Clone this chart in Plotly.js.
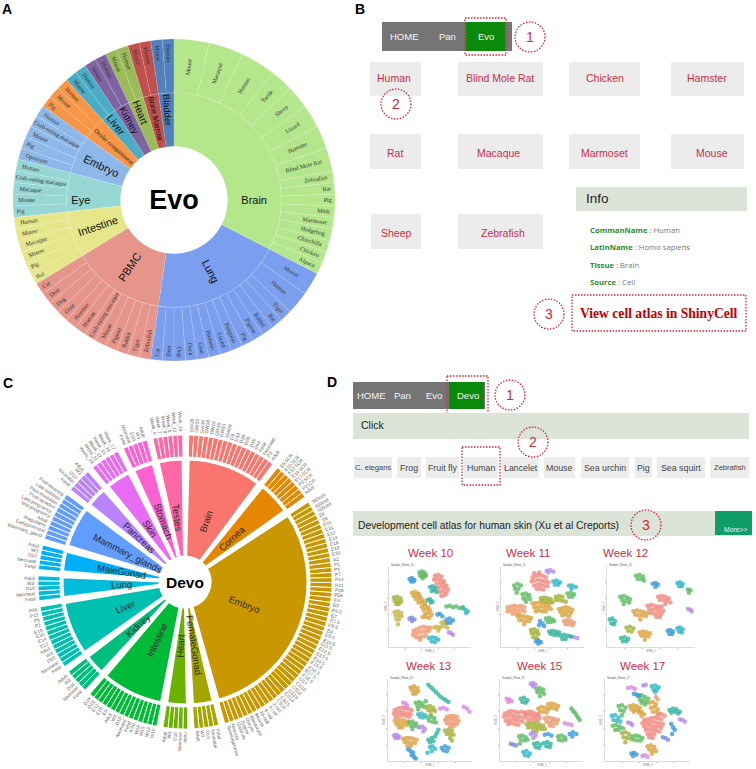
<!DOCTYPE html>
<html><head><meta charset="utf-8">
<script src="https://cdn.plot.ly/plotly-3.0.1.min.js"></script>
<style>html,body{margin:0;padding:0;background:#fff}#c{width:756px;height:769px}</style>
</head><body><div id="c"></div>
<script>
// ---------- Panel A data: samples per species in each tissue ----------
const evoTissues = ["Brain","Lung","PBMC","Intestine","Eye","Embryo","Ocular compartment","Liver","Kidney","Heart","Bone Marrow","Bladder"];
const evoColors = ["#B4E68C","#7B9FEE","#E6958A","#E6E68A","#96D6D3","#8FB8EA","#F79646","#4BACC6","#8064A2","#9BBB59","#C0504D","#4F81BD"];
const evoSpecies = [
 ["Mouse","Macaque","Human","Turtle","Sheep","Lizard","Hamster","Blind Mole Rat","Zebrafish","Rat","Pig","Mink","Marmoset","Hedgehog","Chinchilla","Chicken","Alpaca"],
 ["Mouse","Human","Tiger","Rat","Rabbit","Pigeon","Pig","Pangolin","Lizard","Hamster","Goat","Duck","Dog","Deer","Cat"],
 ["Zebrafish","Tiger","Rabbit","Pigeon","Mouse","Crab-eating macaque","Human","Hamster","Goat","Dog","Deer","Cat"],
 ["Rat","Pig","Mouse","Macaque","Mouse ","Human"],
 ["Pig","Mouse","Macaque","Crab-eating macaque","Human"],
 ["Opossum","Pig","Mouse","Crab-eating macaque","Human"],
 ["Pig","Mouse","Human"],["Mouse","Human"],["Mouse","Human"],["Mouse","Human"],["Mouse","Human"],["Mouse","Human"]
];
const evoBrainCounts = [3,3,3,2,2,2,2,2,1,1,1,1,1,1,1,1,1];
const evoLungCounts = [2,2,1,1,1,1,1,1,1,1,1,1,1,1,1];

// ---------- Panel C data ----------
const devoTissues = ["Brain","Cornea","Embryo","FemaleGonad","Heart","Intestine","Kidney","Liver","Lung","MaleGonad","Mammary_glands","Pancreas","Skin","Stomach","Testes"];
const devoColors = ["#F8766D","#E58700","#C99800","#A3A500","#6BB100","#00BA38","#00BF7D","#00C0AF","#00BCD8","#00B0F6","#619CFF","#B983FF","#E76BF3","#FD61D1","#FF67A4"];
const devoStages = [
 ["GW26","GW23","GW19","GW18","GW16","GW15","GW13","GW09","D9","D14","D20","D28","D35","D44","Fetal","Neonatal","P3","Adult"],
 ["E9.5CR","E10.5CR","E12.5CR","E14.5CR","E17.5CR","P0.5CR","P21CR","Adult"],
 ["300cell","400cell","500cell","E6","E8","E10","E11","E12","E14","E16","E18","E20","A2","P1","P4","P7","P14","P21","P28","P56","E4","E5","E6.5","E7","E7.5","E8.5","E9","E9.5","E10.5","E11.5","E12.5","E13.5","E14.5","E15.5","E16.5","E17.5","E18.5","CS7","CS10","CS12","CS13","CS14","CS15","CS16","2-cell","4-cell","8-cell","16-cell","Morula","Blastocyst","Oocyte","Zygote","Gastrula","Neurula","Somitogenesis"],
 ["Fetal","Neonatal","D10","W3","Adult"],
 ["Fetal","Neonatal","D10","W3","Adult"],
 ["W10","W13","W15","W18","W20","Fetal","Neonatal","D10","W3","Adult","E8","E10","D12","D18","D24"],
 ["Fetal","Neonatal","D10","W3","Adult"],
 ["Fetal","Neonatal","D10","W3","Adult","E12","E14","E16","E18","P2","P6","P15","P56"],
 ["Fetal","Neonatal","D10","W3","Adult"],
 ["Fetal","Neonatal","D10","W3","Adult"],
 ["Mammary_gland","Earlypostnatal","Prepuberty","Adult","Mid-pregnancy","Late-pregnancy","Post-lactation","Post-involution","Late-lactation","Post-weaning"],
 ["Fetal","Neonatal","D10","W3","Adult"],
 ["Week_10","Week_11","Week_12","Week_13","Week_15","Week_17"],
 ["Fetal","Neonatal","D10","W3","Adult"],
 ["Week_6","Week_7","Week_8","Week_9","Week_12","Week_16"]
];

// ---------- Panels B / D text ----------
const evoNav = ["HOME","Pan","Evo"];
const devoNav = ["HOME","Pan","Evo","Devo"];
const evoButtons = ["Human","Blind Mole Rat","Chicken","Hamster","Rat","Macaque","Marmoset","Mouse","Sheep","Zebrafish"];
const devoButtons = ["C. elegans","Frog","Fruit fly","Human","Lancelet","Mouse","Sea urchin","Pig","Sea squirt","Zebrafish"];
const infoKeys = ["CommanName","LatinName","Tissue","Source"];
const infoVals = ["Human","Homo sapiens","Brain","Cell"];
const weekTitles = ["Week 10","Week 11","Week 12","Week 13","Week 15","Week 17"];

// ---------- Panel D embedded t-SNE clusters, read by eye (0-100 plot units): [palette key, x list, y list] ----------
const P = {sa:"#F08A80",go:"#D9A441",gr:"#5DBB63",te:"#33B5A0",ol:"#A3B03A",bl:"#3B9BD9",cy:"#35B8C8",pu:"#B68CE8",or:"#EE9A6E",ma:"#D98AE0",pb:"#7B8CE0",kh:"#C9B84B"};
const wk10 = [
 ["gr",[37,40,43,45,38,41,44,41],[92,93,92,89,88,88,87,85]],
 ["bl",[25,28,31,27,30],[84,85,83,81,81]],
 ["sa",[56,60,64,55,59,63,67,58,62,66,70,60,64,68,72,62,66,70,64,68],[88,89,87,83,84,83,81,78,79,78,76,73,74,73,71,68,69,67,63,64]],
 ["te",[50,53,56,52,55,58],[74,75,73,69,70,68]],
 ["go",[28,32,36,30,34,38,33,37,41,36,40,44,40,44,48,42,46,50,44,48,52,41,45,49],[67,68,66,63,64,62,59,60,58,55,55,54,50,51,49,46,47,45,41,42,40,37,37,36]],
 ["te",[47,50,53,51],[58,59,56,55]],
 ["ol",[6,10,14,7,11,15,9,12],[61,62,60,57,57,56,53,53]],
 ["kh",[7,11,15,8,12,15,9,12,11],[43,44,42,39,39,38,34,34,28]],
 ["pb",[25,28,31,28],[35,36,34,32]],
 ["gr",[70,74,78,82,86,90],[50,51,49,50,48,49]],
 ["cy",[90,93,96,94],[48,46,44,42]],
 ["or",[30,34,38,42,46,50,29,33,37,41,45,49,33,37,41,45,38],[20,22,24,25,24,24,15,17,18,19,19,20,12,12,13,14,9]],
 ["kh",[55,58,61,60,64,67,70,63,67,71],[24,25,23,20,30,31,29,25,26,24]],
 ["bl",[70,74,78,71,75,59,62,65],[34,35,33,30,30,40,41,38]],
 ["cy",[49,53,57,60,52,56],[11,12,11,9,7,6]],
 ["pu",[73,76,78],[18,17,15]]
];
const wk11 = [
 ["sa",[38,42,46,50,54,37,41,45,49,53,57,40,44,48,52,56,43,47,51,40,46],[86,88,89,88,86,81,82,83,82,81,80,76,77,77,76,75,72,72,71,91,92]],
 ["pu",[55,59,63,57],[94,95,93,92]],
 ["gr",[16,20,24,17,21,19],[76,78,76,72,72,67]],
 ["gr",[26,30,34,27,31,35,30],[65,66,64,60,61,59,56]],
 ["or",[8,12,16,20,24,28,8,12,16,20,24,28,14,18,22],[49,50,51,50,51,49,44,45,46,45,46,44,41,41,41]],
 ["go",[20,24,28,32,36,22,26,30,34,28],[38,38,38,37,36,33,33,32,32,28]],
 ["go",[38,42,46,50,54,58,40,44,48,52,56,60,42,46,50,54],[54,54,55,54,53,52,49,49,50,49,48,47,44,45,44,44]],
 ["ol",[48,52,56,60,50,54,58,62,66,70,74,66,70,74,78],[60,61,60,59,57,56,56,55,62,63,62,58,58,57,56]],
 ["cy",[63,67,71,65,69],[81,82,80,77,77]],
 ["gr",[54,58,62,56,60,64],[35,36,34,31,31,32]],
 ["ol",[36,40,44,37,41,45,39,43],[21,22,20,17,17,16,12,11]],
 ["te",[58,62,66,70,60,64,68],[19,20,19,18,16,15,15]],
 ["bl",[42,45,48,45],[7,8,6,4]],
 ["bl",[47,50,46,52],[32,29,27,26]],
 ["go",[70,74,78,82,86,72,76,80,84,74,78,82],[47,48,49,48,46,43,44,44,42,39,40,38]],
 ["or",[76,80,84,88,78,82,86],[32,33,32,30,28,28,27]],
 ["gr",[80,84,88,82,86],[66,67,65,62,62]],
 ["cy",[82,86,90,85],[76,76,74,72]],
 ["pu",[84,88,92],[13,12,11]],
 ["te",[72,76,80,84,74,78],[14,15,14,13,10,10]]
];
const wk12 = [
 ["gr",[15,19,23,26,17,21,25,19],[62,63,61,59,58,57,55,53]],
 ["te",[3,6,9,5,8],[34,35,32,29,28]],
 ["gr",[33,37,41,35,39,42],[88,89,87,84,84,82]],
 ["sa",[46,50,54,58,62,48,52,56,60,64,50,54,58,62,56,60,58,62,66,70,60,64,68,72,66],[51,52,51,50,50,47,46,47,46,45,42,41,42,41,37,37,62,63,62,60,58,58,57,55,53]],
 ["go",[30,34,38,42,46,32,36,40,44,38],[44,45,44,43,42,40,39,39,38,34]],
 ["go",[37,41,45,49,39,43,47,43],[18,19,18,17,14,14,13,9]],
 ["ol",[22,26,30,24,28],[24,25,23,20,19]],
 ["cy",[80,83,86,82,85],[79,80,78,75,75]],
 ["bl",[69,72,75,71,74],[20,21,19,16,16]],
 ["pu",[92,95,96],[47,46,44]],
 ["te",[16,20,24,18,22],[11,12,10,7,7]],
 ["cy",[80,83,86,82,85],[23,24,22,19,18]],
 ["gr",[92,95,93],[71,70,67]],
 ["bl",[52,55,58,55],[78,79,77,74]]
];
const wk13 = [
 ["go",[27,31,35,28,32,36,30,33],[90,91,89,87,86,85,82,82]],
 ["te",[48,51,54,57,60,63,66,69,72],[93,90,87,84,81,78,76,74,72]],
 ["sa",[8,12,16,20,24,28,7,11,15,19,23,27,9,13,17,21,25],[62,64,65,64,63,62,58,59,60,59,58,57,54,55,56,55,54]],
 ["go",[8,12,16,20,24,10,14,18,22,13,17],[49,50,50,49,48,45,45,45,44,41,41]],
 ["gr",[33,37,41,45,35,39,43,36],[71,72,70,73,67,67,66,63]],
 ["gr",[25,29,33,27,31,35,29],[47,48,46,43,43,42,39]],
 ["ol",[46,50,54,48,52,56,51],[66,67,65,62,62,61,57]],
 ["gr",[47,51,55,49,53,57],[53,54,52,49,48,47]],
 ["cy",[36,40,44,38,42],[57,58,56,54,53]],
 ["ma",[18,21,23,20],[71,70,67,65]],
 ["ma",[62,66,70],[64,65,63]],
 ["or",[70,74,78,82,68,72,76,80,84,70,74,78,82,74,78],[54,55,55,54,50,51,51,50,49,46,46,46,45,42,42]],
 ["ol",[68,72,76,70,74,78,74,76],[37,38,37,33,33,32,28,25]],
 ["go",[18,22,26,30,34,20,24,28,32,23,27],[27,28,28,27,26,23,23,22,22,18,18]],
 ["pu",[7,10,13,9,12],[31,32,30,28,28]],
 ["bl",[24,27,30,28,31,33],[14,12,10,7,5,3]],
 ["te",[48,52,56,50,54,58,60],[26,28,30,23,24,34,38]],
 ["cy",[50,53,56,52,47],[17,18,15,12,10]],
 ["bl",[64,68,72,66,70],[16,18,16,13,12]],
 ["pu",[38,41,44,42],[41,42,39,36]],
 ["ma",[90,94,97],[66,64,60]]
];
const wk15 = [
 ["pu",[37,40,43,40],[94,95,93,91]],
 ["gr",[44,48,52,45,49,53,48],[88,89,87,84,84,82,79]],
 ["ma",[8,11,14,10],[76,75,73,72]],
 ["te",[25,29,33,27,31],[76,77,74,72,71]],
 ["sa",[6,10,14,18,22,26,30,5,9,13,17,21,25,29,7,11,15,19,23,27,10,14,18,22],[58,60,61,60,59,60,58,54,55,56,55,54,54,53,49,50,51,50,49,48,45,46,45,44]],
 ["sa",[30,34,38,42,46,32,36,40,44,48,34,38,42,46],[59,60,60,58,57,55,56,55,54,53,50,51,50,49]],
 ["go",[46,50,54,58,48,52,56],[64,66,65,63,60,60,59]],
 ["go",[58,62,66,70,60,64,68],[69,70,69,67,65,65,63]],
 ["ol",[32,36,40,44,48,52,34,38,42,46,50,54,40,44],[45,46,46,45,44,43,41,41,41,40,39,39,36,36]],
 ["or",[54,58,62,66,70,56,60,64,68,60,64],[52,53,52,51,50,48,47,48,46,43,43]],
 ["gr",[23,27,31,25,29,33,24],[30,31,29,26,25,26,21]],
 ["gr",[86,88,90,92,94,96],[64,61,59,56,53,50]],
 ["ma",[78,82,86],[46,45,44]],
 ["bl",[84,88,92,87],[33,35,33,30]],
 ["gr",[70,74,78,71,75,79],[30,31,29,26,25,26]],
 ["pu",[37,40,43,40],[33,34,31,28]],
 ["bl",[54,58,62],[32,33,31]],
 ["te",[41,45,49,43,47],[21,22,20,17,16]],
 ["te",[53,57,61,56,60],[22,23,21,18,17]],
 ["pb",[13,16,19],[21,20,19]],
 ["cy",[28,32,36,30,34],[11,12,9,7,6]]
];
const wk17 = [
 ["cy",[55,59,63,57,61,59],[91,92,90,87,87,84]],
 ["ma",[27,31,35],[89,90,88]],
 ["pu",[45,48],[92,93]],
 ["gr",[39,43,47,51,41,45,49,43,47],[79,80,78,76,75,74,72,71,69]],
 ["bl",[34,37,40],[82,81,80]],
 ["go",[29,33,37,41,31,35,39,34],[67,68,67,65,63,63,62,60]],
 ["go",[52,56,60,54,58,62,56,60,64],[71,72,69,65,66,63,60,60,58]],
 ["or",[60,62],[78,75]],
 ["sa",[46,50,54,58,62,66,44,48,52,56,60,64,68,46,50,54,58,62,66,48,52,56,60,64,50,54,58,52,56,62,66,70],[50,51,52,53,52,51,46,47,47,48,47,46,45,42,43,43,42,42,41,38,38,38,37,36,33,33,33,29,28,56,57,55]],
 ["gr",[16,20,24,18,22,20],[67,68,65,62,61,56]],
 ["cy",[8,12,16,10,14,18],[55,56,53,50,49,48]],
 ["gr",[9,13,17,21,12,16],[43,44,42,40,38,38]],
 ["pu",[27,30,32],[47,46,44]],
 ["go",[40,43,46,43],[59,60,57,55]],
 ["te",[76,80,84,88,78,82,86],[62,64,63,60,59,60,58]],
 ["bl",[78,80,82,79],[45,41,38,33]],
 ["pu",[88,91,94],[51,50,48]],
 ["ol",[20,24,28,22,26,30,24],[34,35,33,29,28,27,23]],
 ["gr",[32,36,40,44,34,38,42],[30,31,30,28,26,25,25]],
 ["pb",[68,71,74],[29,28,26]],
 ["go",[50,54,58,52,56,60,55],[18,19,17,14,13,12,9]],
 ["bl",[31,34,37,33],[9,10,8,6]],
 ["ma",[44,47,50],[6,7,5]]
];
const weekData=[wk10,wk11,wk12,wk13,wk15,wk17];

// ---------- helpers ----------
const W=756,H=769, SANS="Liberation Sans, Arial, sans-serif", SERIF="Liberation Serif, Times New Roman, serif";
const fx=x=>x/W, fy=y=>1-y/H;
const shapes=[], annotations=[], traces=[];
const RED="#CF2A3A";
function rect(x0,y0,x1,y1,fill,line){shapes.push({type:"rect",xref:"paper",yref:"paper",x0:fx(x0),x1:fx(x1),y0:fy(y0),y1:fy(y1),fillcolor:fill||"rgba(0,0,0,0)",line:line||{width:0},layer:"below"});}
const dotted={color:RED,width:1.3,dash:"1.5px,1.5px"};
function circle(cx,cy,r){shapes.push({type:"circle",xref:"paper",yref:"paper",x0:fx(cx-r),x1:fx(cx+r),y0:fy(cy-r),y1:fy(cy+r),line:dotted,layer:"above"});}
function label(t,x,y,size,color,opt){annotations.push(Object.assign({text:t,x:fx(x),y:fy(y),xref:"paper",yref:"paper",showarrow:false,xanchor:"center",yanchor:"middle",borderpad:0,font:{size:size,color:color,family:SANS}},opt||{}));}
function marker(n,cx,cy){circle(cx,cy,15);label(String(n),cx,cy,14,RED);}

// ---------- Panel A: sunburst (sectors run counter-clockwise, so nodes are added in reverse) ----------
{
 const ids=["Evo"],labels=["Evo"],parents=[""],values=[0],colors=["#ffffff"],lineC=["#ffffff"];
 const sizes=[27],fams=[SANS],weights=[700],fcol=["#000"];
 const faint="rgba(255,255,255,0.16)";
 let tot=0;
 for(let i=evoTissues.length-1;i>=0;i--){
  const t=evoTissues[i],sp=evoSpecies[i];
  const cnt=i===0?evoBrainCounts:i===1?evoLungCounts:sp.map(()=>1);
  const sum=cnt.reduce((a,b)=>a+b,0); tot+=sum;
  ids.push(t);labels.push(t);parents.push("Evo");values.push(sum);colors.push(evoColors[i]);lineC.push(faint);
  sizes.push(t==="Ocular compartment"?6.5:11);fams.push(t==="Ocular compartment"?SERIF:SANS);weights.push(400);fcol.push("#111");
  for(let j=sp.length-1;j>=0;j--){const s=sp[j];ids.push(t+"/"+s);labels.push(s.trim());parents.push(t);values.push(cnt[j]);colors.push(evoColors[i]);lineC.push(faint);
   sizes.push(6);fams.push(SERIF);weights.push(400);fcol.push("#333");}
 }
 values[0]=tot;
 traces.push({type:"sunburst",ids,labels,parents,values,branchvalues:"total",sort:false,rotation:90,
  insidetextorientation:"radial",textinfo:"label",leaf:{opacity:1},
  marker:{colors,line:{color:lineC,width:0.8}},
  textfont:{size:sizes,family:fams,weight:weights,color:fcol},
  domain:{x:[fx(13),fx(335)],y:[fy(361),fy(39)]},hoverinfo:"label"});
}

// ---------- Panel C: barpolar ----------
{
 const cx=185,cy=582,Rout=147,unit=1.95,gap=2.42;
 const th1=[],wd1=[],col1=[],th2=[],wd2=[],col2=[];
 let a=1.5;
 const ms=document.createElement("canvas").getContext("2d");
 const rot=t=>t<180?t-90:t-270;
 const pos=(t,r)=>[cx+r*Math.sin(t*Math.PI/180),cy-r*Math.cos(t*Math.PI/180)];
 devoTissues.forEach((t,i)=>{
  const st=devoStages[i],span=st.length*unit;
  const mid=a+span/2;
  th1.push(mid);wd1.push(span);col1.push(devoColors[i]);
  st.forEach((s,j)=>{
   const tt=a+unit*(j+.5);
   th2.push(tt);wd2.push(unit);col2.push(devoColors[i]);
   ms.font="4.8px Liberation Sans";
   const len=ms.measureText(s).width;
   const p=pos(tt,150+len/2);
   label(s,p[0],p[1],4.8,"#666",{textangle:rot(tt)});
  });
  const p=pos(mid,64);
  label(t,p[0],p[1],9.5,"#2a2a2a",{textangle:rot(mid)});
  a+=span+gap;
 });
 const base1=th1.map(()=>25), len1=th1.map(()=>98);
 const base2=th2.map(()=>125), len2=th2.map(()=>22);
 traces.push({type:"barpolar",subplot:"polar",theta:th1,width:wd1,r:len1,base:base1,marker:{color:col1,line:{color:"#fff",width:3}},hoverinfo:"skip"});
 traces.push({type:"barpolar",subplot:"polar",theta:th2,width:wd2,r:len2,base:base2,marker:{color:col2,line:{color:"#fff",width:0.9}},hoverinfo:"skip"});
 label("Devo",cx,cy,15.5,"#000",{font:{size:15.5,color:"#000",family:SANS,weight:700}});
 var polar={domain:{x:[fx(cx-Rout),fx(cx+Rout)],y:[fy(cy+Rout),fy(cy-Rout)]},bgcolor:"rgba(0,0,0,0)",barmode:"overlay",
  radialaxis:{visible:false,range:[0,Rout]},angularaxis:{visible:false,direction:"clockwise",rotation:90,thetaunit:"degrees"}};
}

// ---------- Panel letters ----------
[["A",7,9],["B",360,9],["C",8,383],["D",332,382]].forEach(l=>label("<b>"+l[0]+"</b>",l[1],l[2],14,"#000"));

// ---------- Panel B ----------
const GREY="#757575",NAVG="#0A8A0A",BTN="#ECECEC",SAGE="#DCE4D8",BTXT="#C9304A";
rect(382,22,512,51,GREY); rect(466,22,505,51,NAVG); rect(465,18,506,55,null,dotted);
[404,447,486].forEach((x,i)=>label(evoNav[i],x,37,9.5,"#f4f4f4"));
marker(1,530,37);
const bBoxes=[[370,62,421,96],[458,62,543,96],[569,62,640,96],[671,62,744,96],[370,134,421,169],[458,134,543,169],[569,134,640,169],[671,134,744,169],[371,214,421,249],[458,214,543,249]];
const bText=[[394,78],[500,78],[605,78],[707,78],[395,153],[498,153],[604,153],[712,153],[396,233],[503,233]];
bBoxes.forEach(b=>rect(b[0],b[1],b[2],b[3],BTN));
evoButtons.forEach((t,i)=>label(t,bText[i][0],bText[i][1],10.5,BTXT));
marker(2,396,104);
rect(576,187,747,211,SAGE);
label("Info",585,199,13.5,"#222",{xanchor:"left"});
infoKeys.forEach((k,i)=>label('<b><span style="color:#2E8B2E">'+k+'</span></b> : '+infoVals[i],589,[230,247,265,282][i],7.7,"#777",{xanchor:"left",font:{size:7.7,color:"#777",family:"Open Sans"}}));
rect(572,295,746,331,null,dotted);
label("<b>View cell atlas in ShinyCell</b>",659,314,13.6,"#C00000",{font:{size:13.6,color:"#C00000",family:SERIF}});
marker(3,549,314);

// ---------- Panel D ----------
rect(353,382,485,409,GREY); rect(449,382,484,409,NAVG); rect(447,376,488,414,null,dotted);
[371,403,434,468].forEach((x,i)=>label(devoNav[i],x,395,9.5,"#f4f4f4"));
marker(1,510,395);
rect(353,413,749,439,SAGE);
label("Click",360,425,10.5,"#222",{xanchor:"left"});
marker(2,533,442);
const dBoxes=[[354,392],[397,421],[426,459],[464,498],[502,539],[544,575],[581,629],[635,652],[657,705],[710,749]];
dBoxes.forEach(b=>rect(b[0],457,b[1],478,BTN));
devoButtons.forEach((t,i)=>label(t,(dBoxes[i][0]+dBoxes[i][1])/2,467.5,(i===0||i===9)?7.6:8.8,"#444"));
rect(462,447,500,485,null,dotted);
rect(353,511,752,536,SAGE);
rect(715,511,752,535,"#0F9D68");
label("Development cell atlas for human skin (Xu et al Creports)",357,525,10.3,"#222",{xanchor:"left"});
label("More>>",735,529,6.8,"#eef");
marker(3,646,525);

// ---------- Panel D small scatter plots ----------
const boxes=[[389,471,566,647],[501,584,566,647],[607,695,566,647],[388,472,679,761],[500,583,679,761],[605,690,679,761]];
const titleXY=[[430,553],[528,553],[625,553],[428,666],[539,666],[642,666]];
const layoutAxes={};
boxes.forEach((b,i)=>{
 const sfx=i===0?"":String(i+1);
 const common={showgrid:false,zeroline:false,showticklabels:false,ticks:"outside",ticklen:1.5,tickcolor:"#bbb",tickvals:[20,40,60,80],linecolor:"#ccc",linewidth:.7,showline:true,range:[0,100],fixedrange:true};
 layoutAxes["xaxis"+sfx]=Object.assign({domain:[fx(b[0]),fx(b[1])],anchor:"y"+sfx},common);
 layoutAxes["yaxis"+sfx]=Object.assign({domain:[fy(b[3]),fy(b[2])],anchor:"x"+sfx},common);
 weekData[i].forEach(c=>{
  traces.push({type:"scatter",mode:"markers",x:c[1],y:c[2],xaxis:"x"+sfx,yaxis:"y"+sfx,hoverinfo:"skip",showlegend:false,
   marker:{size:4.6,color:P[c[0]],opacity:.8,line:{width:0}}});
 });
 label(weekTitles[i],titleXY[i][0],titleXY[i][1],11.5,BTXT);
 label("Sample_"+weekTitles[i].replace(" ","_"),b[0]+1,b[2]-1.5,2.8,"#555",{xanchor:"left"});
 label("tSNE_1",(b[0]+b[1])/2,b[3]+4,2.8,"#777");
 label("tSNE_2",b[0]-4,(b[2]+b[3])/2,2.8,"#777",{textangle:-90});
});

const layout=Object.assign({width:W,height:H,margin:{l:0,r:0,t:0,b:0},paper_bgcolor:"#fff",plot_bgcolor:"rgba(0,0,0,0)",showlegend:false,
 polar,shapes,annotations,font:{family:SANS}},layoutAxes);
Plotly.newPlot("c",traces,layout,{displayModeBar:false,staticPlot:true});
</script></body></html>
